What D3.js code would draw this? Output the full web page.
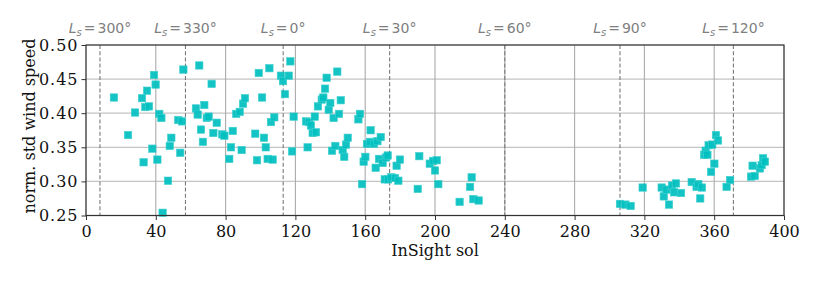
<!DOCTYPE html>
<html>
<head>
<meta charset="utf-8">
<script src="https://cdn.jsdelivr.net/npm/d3@7"></script>
<style>
body{margin:0;background:#fff;}
svg{display:block;}
</style>
</head>
<body>
<svg id="chart" width="822" height="282"></svg>
<script>
const sols = [16.0,24.1,28.1,32.1,33.0,35.0,34.0,36.1,38.0,39.0,39.9,40.9,42.0,43.2,43.9,47.0,48.0,48.9,52.9,55.0,54.0,55.8,63.0,64.0,64.9,65.9,67.0,67.8,69.2,70.3,72.0,73.0,74.9,78.1,79.3,82.1,83.1,84.1,86.1,88.1,89.2,90.0,91.1,97.0,98.0,99.0,100.9,102.0,103.0,104.1,105.1,106.0,107.0,107.9,111.7,112.9,114.0,116.2,117.1,118.1,119.0,126.1,127.0,128.0,128.9,129.9,131.1,131.8,132.9,135.1,136.0,137.0,137.9,139.1,140.0,141.0,141.9,142.9,144.0,145.0,146.0,147.1,148.0,149.0,150.0,156.1,157.0,158.2,159.1,160.1,161.0,162.8,163.1,165.0,166.0,167.0,167.9,168.9,170.0,171.2,171.9,172.9,173.1,175.0,177.1,178.0,179.0,179.9,190.1,191.0,197.0,198.9,200.0,201.0,201.9,214.1,220.1,221.0,222.0,225.0,306.0,309.1,312.1,319.0,329.9,331.1,332.7,334.1,335.8,337.0,338.1,341.0,347.1,349.9,350.9,352.0,353.0,354.2,355.1,356.1,356.8,358.2,358.9,360.1,361.0,362.2,367.1,369.1,381.1,382.0,383.2,386.2,387.2,388.0,389.1];
const windStd = [0.423,0.368,0.401,0.422,0.328,0.433,0.409,0.410,0.348,0.456,0.442,0.332,0.399,0.393,0.254,0.301,0.352,0.364,0.390,0.388,0.342,0.464,0.407,0.398,0.470,0.376,0.358,0.412,0.393,0.395,0.443,0.371,0.386,0.369,0.367,0.333,0.350,0.374,0.399,0.402,0.346,0.414,0.422,0.370,0.331,0.459,0.423,0.364,0.350,0.333,0.466,0.387,0.332,0.394,0.455,0.447,0.428,0.455,0.476,0.344,0.395,0.388,0.350,0.387,0.382,0.371,0.395,0.372,0.410,0.420,0.423,0.436,0.452,0.405,0.415,0.345,0.393,0.352,0.461,0.399,0.419,0.346,0.336,0.354,0.364,0.391,0.399,0.296,0.329,0.336,0.355,0.358,0.375,0.355,0.320,0.359,0.333,0.365,0.327,0.303,0.335,0.338,0.303,0.306,0.305,0.323,0.301,0.332,0.289,0.337,0.326,0.330,0.316,0.331,0.296,0.270,0.292,0.306,0.274,0.272,0.267,0.266,0.264,0.291,0.291,0.278,0.288,0.266,0.294,0.284,0.297,0.283,0.299,0.292,0.296,0.275,0.291,0.339,0.345,0.339,0.353,0.314,0.354,0.326,0.368,0.360,0.292,0.302,0.307,0.323,0.308,0.319,0.324,0.334,0.329];
const lsSols = [8, 57, 113, 174, 240, 306, 371];
const lsValues = [300, 330, 0, 30, 60, 90, 120];
const xTicks = [0,40,80,120,160,200,240,280,320,360,400];
const yTicks = [0.25,0.30,0.35,0.40,0.45,0.50];

const svg = d3.select("#chart");
const L = 86, R = 784, T = 45, B = 215.5;
const x = d3.scaleLinear().domain([0,400]).range([L,R]);
const y = d3.scaleLinear().domain([0.25,0.5]).range([B,T]);

const g = svg.append("g");
// grid
g.append("g").selectAll("line").data(yTicks).join("line")
  .attr("x1",L).attr("x2",R).attr("y1",d=>y(d)).attr("y2",d=>y(d))
  .attr("stroke","#c4c4c4").attr("stroke-width",1.3);
g.append("g").selectAll("line").data(xTicks).join("line")
  .attr("y1",T).attr("y2",B).attr("x1",d=>x(d)).attr("x2",d=>x(d))
  .attr("stroke","#aaaaaa").attr("stroke-width",1.1);
// Ls dashed lines
g.append("g").selectAll("line").data(lsSols).join("line")
  .attr("y1",T).attr("y2",B).attr("x1",d=>x(d)).attr("x2",d=>x(d))
  .attr("stroke","#7a7a7a").attr("stroke-width",1.1).attr("stroke-dasharray","4,2.2");
// points
const pts = sols.map((s,i)=>({s, v: windStd[i]}));
const ms = 7.4;
g.append("g").selectAll("rect").data(pts).join("rect")
  .attr("x",d=>x(d.s)-ms/2).attr("y",d=>y(d.v)-ms/2)
  .attr("width",ms).attr("height",ms)
  .attr("fill","#00bfbf").attr("fill-opacity",0.92)
  .attr("stroke","#40d0d0").attr("stroke-width",0.6);

// axes
const xAxis = d3.axisBottom(x).tickValues(xTicks).tickFormat(d3.format("d")).tickSize(4.5).tickPadding(5.5);
const yAxis = d3.axisLeft(y).tickValues(yTicks).tickFormat(d3.format(".2f")).tickSize(4.5).tickPadding(3);
const gx = svg.append("g").attr("transform",`translate(0,${B})`).call(xAxis);
const gy = svg.append("g").attr("transform",`translate(${L},0)`).call(yAxis);
[gx,gy].forEach(a=>{
  a.select(".domain").remove();
  a.selectAll(".tick line").attr("stroke","#333").attr("stroke-width",1);
  a.selectAll(".tick text").attr("fill","#111").style("font-family","DejaVu Serif").style("font-size","16px");
});
gy.selectAll(".tick text").style("letter-spacing","1px");
// frame
svg.append("rect").attr("x",L).attr("y",T).attr("width",R-L).attr("height",B-T)
  .attr("fill","none").attr("stroke","#333").attr("stroke-width",1.1);

// labels
svg.append("text").attr("x",(L+R)/2).attr("y",256).attr("text-anchor","middle")
  .style("font-family","DejaVu Serif").style("font-size","16px").attr("fill","#111").text("InSight sol");
svg.append("text").attr("transform",`translate(35,126) rotate(-90)`).attr("text-anchor","middle")
  .style("font-family","DejaVu Serif").style("font-size","16px").attr("fill","#111").text("norm. std wind speed");

// Ls labels
const lab = svg.append("g").selectAll("text").data(lsSols).join("text")
  .attr("x",d=>x(d)).attr("y",33).attr("text-anchor","middle")
  .style("font-family","DejaVu Sans").style("font-size","14px").attr("fill","#808080");
lab.each(function(d,i){
  const t = d3.select(this);
  t.append("tspan").style("font-style","italic").text("L");
  t.append("tspan").style("font-style","italic").style("font-size","10px").attr("dy",3).text("s");
  t.append("tspan").attr("dy",-3).attr("dx",2).text("=");
  t.append("tspan").attr("dx",2).text(lsValues[i] + "°");
});
</script>
</body>
</html>
